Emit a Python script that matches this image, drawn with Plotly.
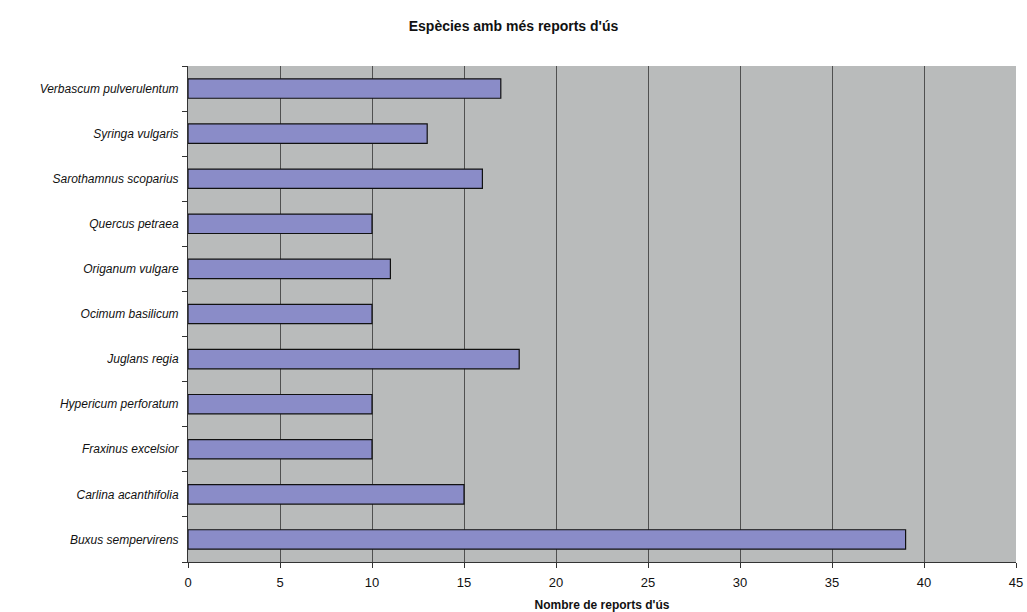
import plotly.graph_objects as go

species = [
    "Buxus sempervirens", "Carlina acanthifolia", "Fraxinus excelsior",
    "Hypericum perforatum", "Juglans regia", "Ocimum basilicum",
    "Origanum vulgare", "Quercus petraea", "Sarothamnus scoparius",
    "Syringa vulgaris", "Verbascum pulverulentum",
]
reports = [39, 15, 10, 10, 18, 10, 11, 10, 16, 13, 17]
x_ticks = [0, 5, 10, 15, 20, 25, 30, 35, 40, 45]

fig = go.Figure(go.Bar(
    y=species, x=reports, orientation="h", width=0.43,
    marker=dict(color="#8a8cc8", line=dict(color="#111111", width=1.2)),
))

fig.update_layout(
    width=1027, height=612,
    margin=dict(l=188, r=11, t=66, b=50, autoexpand=False),
    paper_bgcolor="white", plot_bgcolor="#b9bbbb",
    font=dict(family="Liberation Sans, Arial, sans-serif", color="#111111"),
    title=dict(text="<b>Espècies amb més reports d'ús</b>", x=0.5, xanchor="center",
               y=0.958, yanchor="middle", font=dict(size=14)),
    showlegend=False, bargap=0.57,
)
fig.update_xaxes(
    range=[0, 45], tickvals=x_ticks, showgrid=True, gridcolor="#505050", gridwidth=1,
    showline=True, linecolor="#333333", linewidth=1, ticks="outside", ticklen=5,
    tickcolor="#333333", tickfont=dict(size=13), zeroline=False, automargin=False,
    ticklabelstandoff=3,
    title=dict(text="<b>Nombre de reports d'ús</b>", font=dict(size=12), standoff=20),
)
fig.update_yaxes(
    showgrid=False, showline=True, linecolor="#333333", linewidth=1,
    ticks="outside", ticklen=5, tickcolor="#333333", tickson="boundaries",
    tickfont=dict(size=12), ticklabelstandoff=6, automargin=False,
)
fig.for_each_yaxis(lambda a: a.update(tickprefix="<i>", ticksuffix="</i>"))

fig.write_html("out.html")
